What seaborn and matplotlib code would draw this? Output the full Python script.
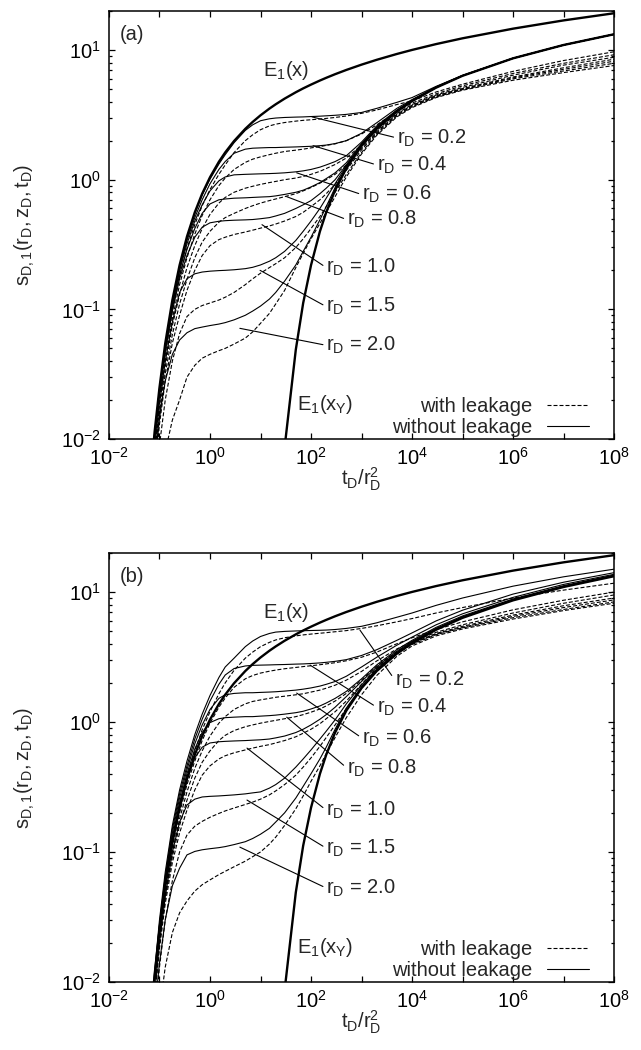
import numpy as np
import matplotlib
matplotlib.use("Agg")
import matplotlib.pyplot as plt
import seaborn as sns
from matplotlib.lines import Line2D
from matplotlib.ticker import LogLocator, FuncFormatter, NullLocator, NullFormatter

# ---- values (t_D/r_D^2 grid and drawdowns) ----
tau = [0.06, 0.08, 0.1, 0.13, 0.18, 0.25, 0.35, 0.5, 0.7, 1, 1.5, 2, 3, 5, 7,
       10, 15, 20, 30, 50, 70, 100, 150, 200, 300, 500, 1e3, 2e3, 5e3, 1e4,
       3e4, 1e5, 1e6, 1e7, 1e8]

E1_x = [0.0031, 0.0113, 0.0249, 0.0546, 0.118, 0.219, 0.364, 0.560, 0.78, 1.044,
        1.375, 1.623, 1.989, 2.468, 2.79, 3.137, 3.534, 3.817, 4.219, 4.726,
        5.062, 5.414, 5.82, 6.108, 6.514, 7.024, 7.717, 8.41, 9.326, 10.02,
        11.12, 12.32, 14.62, 16.93, 19.23]

E1_xY = [np.nan] * 17 + [0.00115, 0.0086, 0.0489, 0.112, 0.219, 0.399, 0.56, 0.831,
                         1.223, 1.823, 2.468, 3.355, 4.038, 5.13, 6.332, 8.634,
                         10.94, 13.24]

r_values = ["0.2", "0.4", "0.6", "0.8", "1.0", "1.5", "2.0"]

# panel (a), without leakage
a_solid_02 = [0.0030, 0.0110, 0.0245, 0.053, 0.115, 0.214, 0.356, 0.548, 0.76, 1.01,
              1.32, 1.56, 1.93, 2.4, 2.65, 2.85, 2.95, 2.99, 3.02, 3.04,
              3.05, 3.07, 3.09, 3.11, 3.14, 3.19, 3.3, 3.55, 3.95, 4.3,
              5.25, 6.38, 8.65, 10.95, 13.25]
a_solid_04 = [0.0030, 0.0109, 0.0242, 0.052, 0.112, 0.206, 0.34, 0.51, 0.7, 0.93,
              1.2, 1.38, 1.6, 1.72, 1.75, 1.76, 1.77, 1.77, 1.78, 1.79,
              1.8, 1.81, 1.83, 1.85, 1.9, 2.0, 2.28, 2.75, 3.55, 4.15,
              5.2, 6.36, 8.64, 10.94, 13.24]
a_solid_06 = [0.0029, 0.0107, 0.0238, 0.051, 0.108, 0.198, 0.32, 0.48, 0.64, 0.82,
              0.98, 1.05, 1.09, 1.1, 1.105, 1.11, 1.115, 1.12, 1.13, 1.15,
              1.17, 1.2, 1.25, 1.3, 1.38, 1.53, 1.95, 2.6, 3.45, 4.1,
              5.17, 6.35, 8.64, 10.94, 13.24]
a_solid_08 = [0.0028, 0.0104, 0.0232, 0.049, 0.102, 0.185, 0.29, 0.42, 0.55, 0.65,
              0.7, 0.71, 0.72, 0.725, 0.73, 0.735, 0.74, 0.75, 0.77, 0.8,
              0.83, 0.88, 0.95, 1.02, 1.13, 1.35, 1.9, 2.55, 3.42, 4.08,
              5.16, 6.34, 8.64, 10.94, 13.24]
a_solid_10 = [0.0026, 0.0100, 0.022, 0.047, 0.097, 0.172, 0.26, 0.36, 0.43, 0.465,
              0.478, 0.483, 0.487, 0.49, 0.493, 0.5, 0.51, 0.525, 0.55, 0.6,
              0.64, 0.69, 0.78, 0.86, 1.0, 1.3, 1.88, 2.52, 3.4, 4.07,
              5.15, 6.34, 8.64, 10.94, 13.24]
a_solid_15 = [0.0020, 0.0085, 0.019, 0.04, 0.08, 0.135, 0.172, 0.188, 0.194, 0.197,
              0.199, 0.2, 0.202, 0.206, 0.211, 0.22, 0.235, 0.25, 0.28, 0.34,
              0.4, 0.48, 0.6, 0.72, 0.93, 1.28, 1.86, 2.5, 3.38, 4.06,
              5.14, 6.34, 8.64, 10.94, 13.24]
a_solid_20 = [0.0015, 0.0065, 0.015, 0.028, 0.045, 0.058, 0.066, 0.071, 0.073, 0.075,
              0.077, 0.079, 0.083, 0.09, 0.097, 0.106, 0.12, 0.135, 0.165, 0.22,
              0.28, 0.36, 0.49, 0.62, 0.87, 1.26, 1.85, 2.49, 3.37, 4.05,
              5.14, 6.33, 8.64, 10.94, 13.24]

# panel (a), with leakage
a_dash_02 = [0.002, 0.0085, 0.020, 0.045, 0.097, 0.18, 0.295, 0.45, 0.63, 0.84,
             1.1, 1.3, 1.62, 2.0, 2.22, 2.43, 2.6, 2.68, 2.76, 2.83,
             2.87, 2.9, 2.94, 2.97, 3.02, 3.1, 3.25, 3.45, 3.8, 4.05,
             4.75, 5.45, 6.85, 8.3, 9.7]
a_dash_04 = [0.0018, 0.0075, 0.018, 0.04, 0.085, 0.155, 0.25, 0.38, 0.53, 0.7,
             0.9, 1.03, 1.2, 1.36, 1.44, 1.5, 1.56, 1.6, 1.65, 1.69,
             1.72, 1.76, 1.8, 1.84, 1.89, 2.0, 2.25, 2.65, 3.35, 3.9,
             4.6, 5.3, 6.6, 7.9, 9.2]
a_dash_06 = [0.0015, 0.0068, 0.016, 0.036, 0.075, 0.13, 0.21, 0.31, 0.42, 0.54,
             0.66, 0.73, 0.8, 0.86, 0.89, 0.92, 0.95, 0.97, 1.0, 1.03,
             1.06, 1.1, 1.16, 1.22, 1.31, 1.47, 1.85, 2.4, 3.25, 3.8,
             4.5, 5.15, 6.4, 7.65, 8.8]
a_dash_08 = [0.0012, 0.006, 0.0145, 0.032, 0.064, 0.11, 0.17, 0.25, 0.33, 0.4,
             0.47, 0.51, 0.55, 0.6, 0.63, 0.66, 0.69, 0.71, 0.74, 0.78,
             0.82, 0.87, 0.94, 1.0, 1.1, 1.3, 1.75, 2.35, 3.2, 3.75,
             4.45, 5.05, 6.2, 7.3, 8.5]
a_dash_10 = [0.001, 0.005, 0.013, 0.028, 0.055, 0.09, 0.14, 0.2, 0.26, 0.31,
             0.345, 0.36, 0.378, 0.395, 0.408, 0.423, 0.44, 0.455, 0.48, 0.52,
             0.56, 0.62, 0.7, 0.78, 0.92, 1.18, 1.7, 2.3, 3.15, 3.7,
             4.4, 5.0, 6.1, 7.1, 8.2]
a_dash_15 = [0.0005, 0.003, 0.009, 0.02, 0.04, 0.065, 0.088, 0.1, 0.107, 0.112,
             0.118, 0.124, 0.135, 0.155, 0.172, 0.19, 0.21, 0.225, 0.25, 0.3,
             0.35, 0.42, 0.52, 0.62, 0.8, 1.1, 1.62, 2.25, 3.1, 3.65,
             4.35, 4.95, 6.0, 6.9, 7.9]
a_dash_20 = [0.0003, 0.0015, 0.004, 0.008, 0.014, 0.02, 0.03, 0.037, 0.042, 0.045,
             0.048, 0.05, 0.054, 0.06, 0.067, 0.078, 0.093, 0.11, 0.14, 0.21,
             0.27, 0.35, 0.46, 0.56, 0.74, 1.05, 1.58, 2.2, 3.05, 3.6,
             4.3, 4.9, 5.85, 6.7, 7.6]

# panel (b), without leakage
b_solid_02 = [0.0025, 0.012, 0.03, 0.07, 0.16, 0.3, 0.5, 0.8, 1.15, 1.6,
              2.2, 2.65, 3.1, 3.8, 4.2, 4.55, 4.8, 4.92, 4.98, 5.02,
              5.04, 5.06, 5.08, 5.1, 5.15, 5.25, 5.45, 5.8, 6.4, 6.9,
              7.9, 9.0, 11.1, 13.1, 15.0]
b_solid_04 = [0.0024, 0.0115, 0.028, 0.065, 0.15, 0.28, 0.46, 0.74, 1.05, 1.45,
              1.95, 2.3, 2.58, 2.7, 2.73, 2.74, 2.75, 2.76, 2.77, 2.79,
              2.8, 2.82, 2.85, 2.88, 2.93, 3.02, 3.25, 3.6, 4.25, 4.85,
              6.0, 7.25, 9.65, 11.9, 14.1]
b_solid_06 = [0.0023, 0.011, 0.027, 0.062, 0.14, 0.26, 0.43, 0.68, 0.95, 1.25,
              1.52, 1.62, 1.66, 1.68, 1.68, 1.69, 1.7, 1.71, 1.73, 1.76,
              1.79, 1.83, 1.89, 1.95, 2.05, 2.25, 2.65, 3.15, 3.9, 4.5,
              5.6, 6.8, 9.1, 11.45, 13.7]
b_solid_08 = [0.0022, 0.0105, 0.026, 0.058, 0.13, 0.24, 0.4, 0.62, 0.83, 0.99,
              1.06, 1.08, 1.09, 1.1, 1.1, 1.11, 1.12, 1.13, 1.15, 1.18,
              1.21, 1.26, 1.33, 1.4, 1.52, 1.72, 2.15, 2.75, 3.6, 4.25,
              5.35, 6.55, 8.85, 11.2, 13.5]
b_solid_10 = [0.002, 0.01, 0.024, 0.054, 0.12, 0.22, 0.36, 0.53, 0.64, 0.69,
              0.705, 0.71, 0.715, 0.72, 0.725, 0.73, 0.74, 0.755, 0.78, 0.83,
              0.88, 0.95, 1.05, 1.14, 1.3, 1.57, 2.05, 2.65, 3.5, 4.18,
              5.25, 6.45, 8.75, 11.05, 13.4]
b_solid_15 = [0.0017, 0.008, 0.02, 0.045, 0.1, 0.17, 0.23, 0.255, 0.265, 0.268,
              0.27, 0.272, 0.275, 0.28, 0.285, 0.29, 0.31, 0.33, 0.37, 0.45,
              0.52, 0.61, 0.74, 0.85, 1.04, 1.38, 1.93, 2.56, 3.43, 4.1,
              5.2, 6.4, 8.7, 11.0, 13.3]
b_solid_20 = [0.0012, 0.006, 0.014, 0.03, 0.055, 0.075, 0.095, 0.101, 0.104, 0.106,
              0.108, 0.11, 0.114, 0.12, 0.127, 0.137, 0.152, 0.17, 0.2, 0.26,
              0.32, 0.4, 0.52, 0.64, 0.88, 1.28, 1.87, 2.52, 3.4, 4.08,
              5.18, 6.38, 8.68, 10.98, 13.28]

# panel (b), with leakage
b_dash_02 = [0.002, 0.0095, 0.024, 0.055, 0.125, 0.23, 0.38, 0.6, 0.87, 1.2,
             1.65, 2.0, 2.5, 3.1, 3.45, 3.8, 4.1, 4.28, 4.45, 4.6,
             4.68, 4.75, 4.82, 4.87, 4.95, 5.05, 5.25, 5.5, 5.9, 6.25,
             6.9, 7.6, 9.0, 10.35, 11.7]
b_dash_04 = [0.0019, 0.009, 0.022, 0.05, 0.11, 0.2, 0.33, 0.5, 0.72, 0.98,
             1.3, 1.53, 1.85, 2.15, 2.28, 2.38, 2.46, 2.51, 2.57, 2.63,
             2.67, 2.71, 2.76, 2.8, 2.86, 2.96, 3.15, 3.45, 4.0, 4.45,
             5.15, 5.9, 7.3, 8.65, 10.0]
b_dash_06 = [0.0018, 0.0085, 0.021, 0.047, 0.1, 0.18, 0.29, 0.44, 0.6, 0.78,
             0.98, 1.1, 1.25, 1.38, 1.44, 1.48, 1.52, 1.55, 1.58, 1.62,
             1.65, 1.7, 1.76, 1.82, 1.92, 2.1, 2.45, 2.95, 3.65, 4.15,
             4.9, 5.6, 6.9, 8.2, 9.5]
b_dash_08 = [0.0016, 0.008, 0.02, 0.044, 0.092, 0.16, 0.25, 0.37, 0.49, 0.6,
             0.72, 0.79, 0.86, 0.92, 0.95, 0.98, 1.01, 1.03, 1.06, 1.1,
             1.14, 1.19, 1.26, 1.33, 1.45, 1.66, 2.1, 2.7, 3.5, 4.05,
             4.8, 5.45, 6.65, 7.85, 9.0]
b_dash_10 = [0.0015, 0.0075, 0.018, 0.04, 0.083, 0.14, 0.21, 0.3, 0.39, 0.46,
             0.52, 0.55, 0.58, 0.61, 0.63, 0.65, 0.67, 0.69, 0.72, 0.77,
             0.82, 0.88, 0.97, 1.06, 1.2, 1.45, 1.95, 2.6, 3.42, 4.0,
             4.75, 5.35, 6.5, 7.6, 8.7]
b_dash_15 = [0.001, 0.005, 0.013, 0.03, 0.06, 0.1, 0.135, 0.158, 0.172, 0.185,
             0.198, 0.207, 0.218, 0.232, 0.242, 0.255, 0.275, 0.295, 0.33, 0.39,
             0.45, 0.53, 0.65, 0.76, 0.95, 1.27, 1.82, 2.48, 3.35, 3.95,
             4.7, 5.3, 6.35, 7.35, 8.4]
b_dash_20 = [0.0004, 0.002, 0.006, 0.013, 0.024, 0.034, 0.042, 0.05, 0.056, 0.061,
             0.067, 0.071, 0.077, 0.085, 0.092, 0.1, 0.115, 0.13, 0.16, 0.215,
             0.27, 0.35, 0.46, 0.57, 0.76, 1.08, 1.62, 2.28, 3.2, 3.85,
             4.6, 5.2, 6.2, 7.2, 8.2]

# ---- styling ----
sns.set_theme(style="ticks")
plt.rcParams["font.family"] = ["Liberation Sans", "DejaVu Sans"]
plt.rcParams["mathtext.fontset"] = "custom"
plt.rcParams["mathtext.rm"] = "Liberation Sans"
plt.rcParams["mathtext.it"] = "Liberation Sans:italic"
plt.rcParams["mathtext.bf"] = "Liberation Sans:bold"
plt.rcParams["mathtext.default"] = "rm"

FS = 14.5
DASH = (0, (3.6, 1.8))
THIN = 0.8
THICK = 1.7

# label leader lines: (point on curve, text anchor) in data coords
leaders_a = [((105, 3.05), (5.0e3, 2.1)), ((110, 1.83), (2.0e3, 1.30)),
             ((52, 1.13), (1.02e3, 0.767)), ((33, 0.74), (513, 0.492)),
             ((10.7, 0.45), (200, 0.21)), ((9.8, 0.2), (200, 0.105)),
             ((3.9, 0.0714), (200, 0.0528))]
leaders_b = [((930, 5.1), (4.6e3, 2.1)), ((96, 2.74), (2.0e3, 1.30)),
             ((52, 1.67), (1.02e3, 0.753)), ((33, 1.09), (513, 0.443)),
             ((5.4, 0.63), (200, 0.21)), ((5.4, 0.251), (200, 0.107)),
             ((3.9, 0.109), (200, 0.0528))]


def exp_label(v, pos, only_even=False):
    e = int(round(np.log10(v)))
    if only_even and e % 2:
        return ""
    return rf"$10^{{{e}}}$"


def draw_panel(ax, solids, dashes, tag, leaders):
    ax.set_xscale("log")
    ax.set_yscale("log")
    for ys in dashes:
        sns.lineplot(x=tau, y=ys, ax=ax, color="black", lw=THIN,
                     linestyle=DASH, errorbar=None, legend=False)
    for ys in solids:
        sns.lineplot(x=tau, y=ys, ax=ax, color="black", lw=THIN,
                     errorbar=None, legend=False)
    sns.lineplot(x=tau, y=E1_x, ax=ax, color="black", lw=THICK,
                 errorbar=None, legend=False)
    sns.lineplot(x=tau, y=E1_xY, ax=ax, color="black", lw=THICK,
                 errorbar=None, legend=False)

    ax.set_xlim(1e-2, 1e8)
    ax.set_ylim(1e-2, 20)

    ax.xaxis.set_major_locator(LogLocator(base=10, numticks=20))
    ax.xaxis.set_major_formatter(FuncFormatter(lambda v, p: exp_label(v, p, True)))
    ax.xaxis.set_minor_locator(NullLocator())
    ax.yaxis.set_major_locator(LogLocator(base=10, numticks=10))
    ax.yaxis.set_major_formatter(FuncFormatter(exp_label))
    ax.yaxis.set_minor_locator(LogLocator(base=10, subs=np.arange(2, 10), numticks=10))
    ax.yaxis.set_minor_formatter(NullFormatter())
    ax.tick_params(which="both", direction="in", top=True, right=True,
                   colors="black", width=0.9, labelsize=FS)
    ax.tick_params(which="major", length=4.5, pad=6)
    ax.tick_params(which="minor", length=2.5)
    for sp in ax.spines.values():
        sp.set_linewidth(1.1)
        sp.set_color("black")

    ax.set_xlabel(r"$t_D/r_D^2$", fontsize=FS)
    ax.set_ylabel(r"$s_{D,1}(r_D,z_D,t_D)$", fontsize=FS)
    ax.xaxis.set_label_coords(0.5, -0.062)
    ax.yaxis.set_label_coords(-0.143, 0.5)

    ax.text(0.022, 0.944, tag, transform=ax.transAxes, fontsize=FS,
            ha="left", va="center")
    ax.text(0.305, 0.862, r"$E_1(x)$", transform=ax.transAxes, fontsize=FS,
            ha="left", va="center")
    ax.text(0.372, 0.080, r"$E_1(x_Y)$", transform=ax.transAxes, fontsize=FS,
            ha="left", va="center")

    for lab, (p0, p1) in zip(r_values, leaders):
        ax.annotate(rf"$r_D$ = {lab}", xy=p0, xytext=p1, fontsize=FS,
                    ha="left", va="center",
                    arrowprops=dict(arrowstyle="-", color="black", lw=THIN,
                                    shrinkA=0, shrinkB=0, relpos=(0, 0.5)))

    handles = [Line2D([], [], color="black", lw=THIN, linestyle=DASH),
               Line2D([], [], color="black", lw=THIN)]
    ax.legend(handles, ["with leakage", "without leakage"], loc="lower right",
              bbox_to_anchor=(0.95, 0.005), frameon=False, markerfirst=False,
              handlelength=2.1, handletextpad=0.7, labelspacing=0.1,
              borderaxespad=0, borderpad=0, fontsize=FS)


fig = plt.figure(figsize=(6.41, 10.5), dpi=100)
ax_a = fig.add_axes([0.170, 0.5819, 0.788, 0.4076])
ax_b = fig.add_axes([0.170, 0.0648, 0.788, 0.4086])

draw_panel(ax_a,
           [a_solid_02, a_solid_04, a_solid_06, a_solid_08, a_solid_10, a_solid_15, a_solid_20],
           [a_dash_02, a_dash_04, a_dash_06, a_dash_08, a_dash_10, a_dash_15, a_dash_20],
           "(a)", leaders_a)
draw_panel(ax_b,
           [b_solid_02, b_solid_04, b_solid_06, b_solid_08, b_solid_10, b_solid_15, b_solid_20],
           [b_dash_02, b_dash_04, b_dash_06, b_dash_08, b_dash_10, b_dash_15, b_dash_20],
           "(b)", leaders_b)

fig.savefig("out.png", dpi=100)
